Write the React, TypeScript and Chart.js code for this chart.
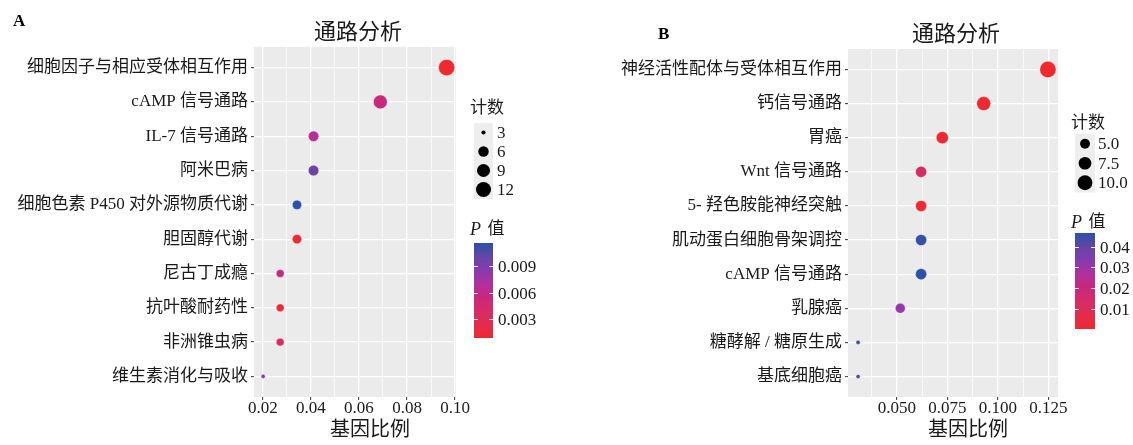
import React, { useEffect, useRef } from "react";
import { Chart, registerables } from "chart.js";

Chart.register(...registerables);

const SERIF = "'Liberation Serif', 'Times New Roman', 'Noto Sans CJK SC', serif";
const TEXT = "#1a1a1a";
const PANEL_BG = "#EBEBEB";
const HEIGHT = 445;

// ---- Panel A: pathway enrichment ----
const catsA = [
  "细胞因子与相应受体相互作用",
  "cAMP 信号通路",
  "IL-7 信号通路",
  "阿米巴病",
  "细胞色素 P450 对外源物质代谢",
  "胆固醇代谢",
  "尼古丁成瘾",
  "抗叶酸耐药性",
  "非洲锥虫病",
  "维生素消化与吸收",
];
const ratioA = [0.0965, 0.0689, 0.0411, 0.0411, 0.0342, 0.0342, 0.0272, 0.0272, 0.0272, 0.0201];
const countA = [14, 10, 6, 6, 5, 5, 4, 4, 4, 3];
const pA = [0.00077, 0.0054, 0.0068, 0.0097, 0.0117, 0.0012, 0.0057, 0.0014, 0.0035, 0.0084];
const xMajorA = [0.02, 0.04, 0.06, 0.08, 0.1];
const xMajorLabelA = ["0.02", "0.04", "0.06", "0.08", "0.10"];
const xMinorA = [0.03, 0.05, 0.07, 0.09];
const sizeBreaksA = [3, 6, 9, 12];
const sizeLabelsA = ["3", "6", "9", "12"];
const pBreaksA = [0.003, 0.006, 0.009];
const pLabelsA = ["0.003", "0.006", "0.009"];

// ---- Panel B: pathway enrichment ----
const catsB = [
  "神经活性配体与受体相互作用",
  "钙信号通路",
  "胃癌",
  "Wnt 信号通路",
  "5- 羟色胺能神经突触",
  "肌动蛋白细胞骨架调控",
  "cAMP 信号通路",
  "乳腺癌",
  "糖酵解 / 糖原生成",
  "基底细胞癌",
];
const ratioB = [0.1248, 0.093, 0.0725, 0.062, 0.062, 0.062, 0.062, 0.0517, 0.0308, 0.0308];
const countB = [12, 9, 7, 6, 6, 6, 6, 5, 3, 3];
const pB = [0.0004, 0.0013, 0.0018, 0.0133, 0.0014, 0.0452, 0.0466, 0.0309, 0.0443, 0.0388];
const xMajorB = [0.05, 0.075, 0.1, 0.125];
const xMajorLabelB = ["0.050", "0.075", "0.100", "0.125"];
const xMinorB = [0.0375, 0.0625, 0.0875, 0.1125];
const sizeBreaksB = [5, 7.5, 10];
const sizeLabelsB = ["5.0", "7.5", "10.0"];
const pBreaksB = [0.01, 0.02, 0.03, 0.04];
const pLabelsB = ["0.01", "0.02", "0.03", "0.04"];

// red (low P) -> magenta -> blue (high P)
const COLOR_STOPS: [number, string][] = [
  [0, "#EF2A2E"],
  [0.25, "#DA2C62"],
  [0.45, "#C6287F"],
  [0.56, "#B3309A"],
  [0.7, "#8A3AB0"],
  [0.85, "#6546A5"],
  [1, "#2B51A8"],
];

function hexRgb(h: string): number[] {
  const n = parseInt(h.slice(1), 16);
  return [(n >> 16) & 255, (n >> 8) & 255, n & 255];
}

function gradientAt(t: number): string {
  const u = Math.max(0, Math.min(1, t));
  for (let i = 1; i < COLOR_STOPS.length; i++) {
    const [t1, c1] = COLOR_STOPS[i];
    const [t0, c0] = COLOR_STOPS[i - 1];
    if (u <= t1) {
      const k = (u - t0) / (t1 - t0);
      const a = hexRgb(c0);
      const b = hexRgb(c1);
      const m = a.map((v, j) => Math.round(v + (b[j] - v) * k));
      return `rgb(${m[0]},${m[1]},${m[2]})`;
    }
  }
  return COLOR_STOPS[COLOR_STOPS.length - 1][1];
}

type Panel = {
  tag: string;
  cats: string[];
  ratio: number[];
  count: number[];
  p: number[];
  xMin: number;
  xMax: number;
  xMajor: number[];
  xMajorLabel: string[];
  xMinor: number[];
  sizeBreaks: number[];
  sizeLabels: string[];
  pBreaks: number[];
  pLabels: string[];
  offset: number;
  width: number;
  area: { left: number; right: number; top: number; bottom: number };
  tagPos: [number, number];
  titlePos: [number, number];
  xTitlePos: [number, number];
  keyLeft: number;
  keyW: number;
  sizeTitleY: number;
  keyTop: number;
  keyH: number;
  sizeLabelX: number;
  colorTitleY: number;
  barTop: number;
  barBottom: number;
  colorLabelX: number;
};

const R_MIN = 2.1;
const R_MAX = 8.1;

function makeRadius(count: number[]) {
  const lo = Math.min(...count);
  const hi = Math.max(...count);
  return (c: number) => R_MIN + (R_MAX - R_MIN) * Math.sqrt(Math.max(0, (c - lo) / (hi - lo)));
}

function makeColor(p: number[]) {
  const lo = Math.min(...p);
  const hi = Math.max(...p);
  return {
    t: (v: number) => (v - lo) / (hi - lo),
    color: (v: number) => gradientAt((v - lo) / (hi - lo)),
  };
}

function makeOverlay(s: Panel) {
  const radius = makeRadius(s.count);
  const cs = makeColor(s.p);
  return {
    id: "panelDecor" + s.tag,
    beforeDraw(chart: any) {
      const { ctx, chartArea: a } = chart;
      ctx.save();
      ctx.fillStyle = PANEL_BG;
      ctx.fillRect(a.left, a.top, a.right - a.left, a.bottom - a.top);
      ctx.restore();
    },
    afterDraw(chart: any) {
      const ctx: CanvasRenderingContext2D = chart.ctx;
      ctx.save();
      ctx.textBaseline = "middle";

      // panel tag
      ctx.fillStyle = "#000";
      ctx.textAlign = "left";
      ctx.font = `bold 17px ${SERIF}`;
      ctx.fillText(s.tag, s.tagPos[0], s.tagPos[1]);

      // chart title
      ctx.fillStyle = TEXT;
      ctx.textAlign = "center";
      ctx.font = `22px ${SERIF}`;
      ctx.fillText("通路分析", s.titlePos[0], s.titlePos[1]);

      // x axis title
      ctx.font = `20px ${SERIF}`;
      ctx.fillText("基因比例", s.xTitlePos[0], s.xTitlePos[1]);

      // size legend
      ctx.textAlign = "left";
      ctx.font = `17px ${SERIF}`;
      ctx.fillText("计数", s.keyLeft - 4, s.sizeTitleY);
      ctx.fillStyle = "#EEEEEE";
      ctx.fillRect(s.keyLeft, s.keyTop, s.keyW, s.keyH * s.sizeBreaks.length);
      s.sizeBreaks.forEach((b, i) => {
        const cy = s.keyTop + s.keyH * (i + 0.5);
        ctx.fillStyle = "#000";
        ctx.beginPath();
        ctx.arc(s.keyLeft + s.keyW / 2, cy, radius(b), 0, Math.PI * 2);
        ctx.fill();
        ctx.fillStyle = TEXT;
        ctx.font = `17px ${SERIF}`;
        ctx.fillText(s.sizeLabels[i], s.sizeLabelX, cy + 1);
      });

      // colour legend title: italic P + 值
      ctx.fillStyle = TEXT;
      ctx.font = `italic 18px ${SERIF}`;
      ctx.fillText("P", s.keyLeft - 4, s.colorTitleY);
      const pw = ctx.measureText("P ").width;
      ctx.font = `17px ${SERIF}`;
      ctx.fillText("值", s.keyLeft - 4 + pw + 2, s.colorTitleY);

      // colour bar
      const h = s.barBottom - s.barTop;
      for (let y = 0; y < h; y++) {
        ctx.fillStyle = gradientAt(1 - (y + 0.5) / h);
        ctx.fillRect(s.keyLeft, s.barTop + y, s.keyW, 1);
      }
      ctx.strokeStyle = "rgba(255,255,255,0.9)";
      ctx.lineWidth = 1;
      s.pBreaks.forEach((b, i) => {
        const y = Math.round(s.barBottom - cs.t(b) * h) + 0.5;
        ctx.beginPath();
        ctx.moveTo(s.keyLeft, y);
        ctx.lineTo(s.keyLeft + 4, y);
        ctx.moveTo(s.keyLeft + s.keyW - 4, y);
        ctx.lineTo(s.keyLeft + s.keyW, y);
        ctx.stroke();
        ctx.fillStyle = TEXT;
        ctx.font = `17px ${SERIF}`;
        ctx.fillText(s.pLabels[i], s.colorLabelX, y + 1);
      });
      ctx.restore();
    },
  };
}

function buildChart(canvas: HTMLCanvasElement, s: Panel) {
  const radius = makeRadius(s.count);
  const cs = makeColor(s.p);
  const isMajor = (v: number) => s.xMajor.some((m) => Math.abs(m - v) < 1e-9);
  const xTicks = [...s.xMajor, ...s.xMinor].sort((a, b) => a - b);

  return new Chart(canvas, {
    type: "scatter",
    data: {
      datasets: [
        {
          data: s.ratio.map((r, i) => ({ x: r, y: i + 1 })),
          pointRadius: (ctx: any) => radius(s.count[ctx.dataIndex]),
          pointBackgroundColor: (ctx: any) => cs.color(s.p[ctx.dataIndex]),
          pointBorderColor: "rgba(255,255,255,0.55)",
          pointBorderWidth: 0.6,
        },
      ],
    },
    options: {
      animation: false,
      responsive: false,
      events: [],
      layout: {
        padding: { left: 0, top: s.area.top, right: s.width - s.area.right, bottom: 0 },
      },
      plugins: {
        legend: { display: false },
        tooltip: { enabled: false },
        title: { display: false },
      },
      scales: {
        x: {
          type: "linear",
          min: s.xMin,
          max: s.xMax,
          afterBuildTicks: (scale: any) => {
            scale.ticks = xTicks.map((v) => ({ value: v }));
          },
          afterFit: (scale: any) => {
            scale.height = HEIGHT - s.area.bottom;
          },
          border: { display: false },
          grid: {
            color: "#FFFFFF",
            lineWidth: (ctx: any) => (ctx.tick && isMajor(ctx.tick.value) ? 1.3 : 0.7),
            tickColor: (ctx: any) => (ctx.tick && isMajor(ctx.tick.value) ? "#333333" : "rgba(0,0,0,0)"),
            tickLength: 3,
            tickWidth: 1,
          },
          ticks: {
            autoSkip: false,
            maxRotation: 0,
            padding: 0,
            color: TEXT,
            font: { family: SERIF, size: 17, lineHeight: 1 },
            callback: (v: any) => {
              const i = s.xMajor.findIndex((m) => Math.abs(m - Number(v)) < 1e-9);
              return i >= 0 ? s.xMajorLabel[i] : "";
            },
          },
        },
        y: {
          type: "linear",
          reverse: true,
          min: 0.4,
          max: s.cats.length + 0.6,
          afterBuildTicks: (scale: any) => {
            scale.ticks = s.cats.map((_, i) => ({ value: i + 1 }));
          },
          afterFit: (scale: any) => {
            scale.width = s.area.left;
          },
          border: { display: false },
          grid: {
            color: "#FFFFFF",
            lineWidth: 1.3,
            tickColor: "#333333",
            tickLength: 3,
            tickWidth: 1,
          },
          ticks: {
            autoSkip: false,
            padding: 3,
            color: TEXT,
            font: { family: SERIF, size: 17 },
            callback: (v: any) => s.cats[Math.round(Number(v)) - 1] ?? "",
          },
        },
      },
    },
    plugins: [makeOverlay(s)],
  } as any);
}

const panelA: Panel = {
  tag: "A",
  cats: catsA,
  ratio: ratioA,
  count: countA,
  p: pA,
  xMin: 0.0163,
  xMax: 0.1004,
  xMajor: xMajorA,
  xMajorLabel: xMajorLabelA,
  xMinor: xMinorA,
  sizeBreaks: sizeBreaksA,
  sizeLabels: sizeLabelsA,
  pBreaks: pBreaksA,
  pLabels: pLabelsA,
  offset: 0,
  width: 560,
  area: { left: 254, right: 456, top: 47, bottom: 397 },
  tagPos: [13, 22],
  titlePos: [358, 33],
  xTitlePos: [370, 431],
  keyLeft: 474,
  keyW: 19,
  sizeTitleY: 109,
  keyTop: 123,
  keyH: 19,
  sizeLabelX: 497,
  colorTitleY: 230,
  barTop: 243,
  barBottom: 338,
  colorLabelX: 498,
};

const panelB: Panel = {
  tag: "B",
  cats: catsB,
  ratio: ratioB,
  count: countB,
  p: pB,
  xMin: 0.0258,
  xMax: 0.1298,
  xMajor: xMajorB,
  xMajorLabel: xMajorLabelB,
  xMinor: xMinorB,
  sizeBreaks: sizeBreaksB,
  sizeLabels: sizeLabelsB,
  pBreaks: pBreaksB,
  pLabels: pLabelsB,
  offset: 560,
  width: 573,
  area: { left: 288, right: 498, top: 49, bottom: 397 },
  tagPos: [98, 35],
  titlePos: [396, 35],
  xTitlePos: [408, 431],
  keyLeft: 515,
  keyW: 20,
  sizeTitleY: 124,
  keyTop: 134,
  keyH: 19.5,
  sizeLabelX: 538,
  colorTitleY: 223,
  barTop: 233,
  barBottom: 329,
  colorLabelX: 540,
};

function PanelCanvas({ spec }: { spec: Panel }) {
  const ref = useRef<HTMLCanvasElement | null>(null);
  useEffect(() => {
    if (!ref.current) return;
    const chart = buildChart(ref.current, spec);
    return () => chart.destroy();
  }, [spec]);
  return (
    <canvas
      ref={ref}
      width={spec.width}
      height={HEIGHT}
      style={{ position: "absolute", left: spec.offset, top: 0, width: spec.width, height: HEIGHT }}
    />
  );
}

export default function App() {
  return (
    <div
      style={{
        position: "fixed",
        left: 0,
        top: 0,
        width: 1133,
        height: HEIGHT,
        background: "#FFFFFF",
        overflow: "hidden",
      }}
    >
      <PanelCanvas spec={panelA} />
      <PanelCanvas spec={panelB} />
    </div>
  );
}
